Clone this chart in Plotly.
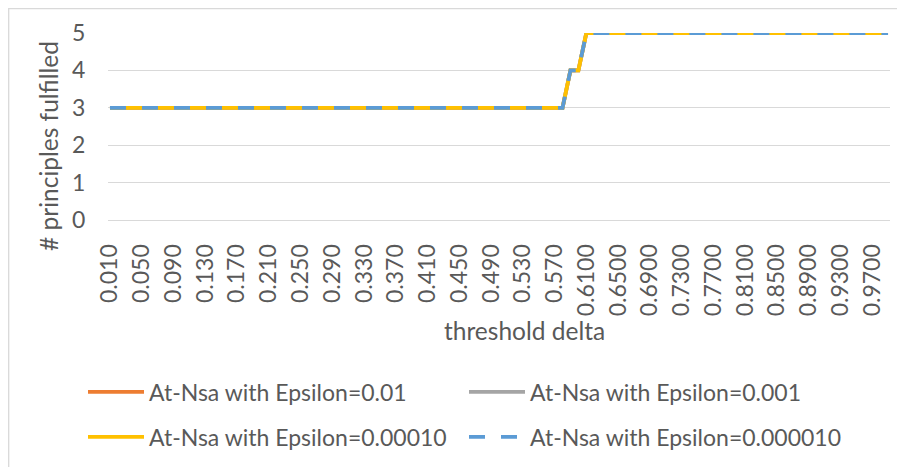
import plotly.graph_objects as go

categories = [
    "0.010", "0.020", "0.030", "0.040", "0.050", "0.060", "0.070", "0.080", "0.090", "0.100",
    "0.110", "0.120", "0.130", "0.140", "0.150", "0.160", "0.170", "0.180", "0.190", "0.200",
    "0.210", "0.220", "0.230", "0.240", "0.250", "0.260", "0.270", "0.280", "0.290", "0.300",
    "0.310", "0.320", "0.330", "0.340", "0.350", "0.360", "0.370", "0.380", "0.390", "0.400",
    "0.410", "0.420", "0.430", "0.440", "0.450", "0.460", "0.470", "0.480", "0.490", "0.500",
    "0.510", "0.520", "0.530", "0.540", "0.550", "0.560", "0.570", "0.580", "0.590", "0.600",
    "0.6100", "0.6200", "0.6300", "0.6400", "0.6500", "0.6600", "0.6700", "0.6800", "0.6900", "0.7000",
    "0.7100", "0.7200", "0.7300", "0.7400", "0.7500", "0.7600", "0.7700", "0.7800", "0.7900", "0.8000",
    "0.8100", "0.8200", "0.8300", "0.8400", "0.8500", "0.8600", "0.8700", "0.8800", "0.8900", "0.9000",
    "0.9100", "0.9200", "0.9300", "0.9400", "0.9500", "0.9600", "0.9700", "0.9800", "0.9900",
]

tick_labels = [
    "0.010", "0.050", "0.090", "0.130", "0.170", "0.210", "0.250", "0.290", "0.330", "0.370",
    "0.410", "0.450", "0.490", "0.530", "0.570", "0.6100", "0.6500", "0.6900", "0.7300", "0.7700",
    "0.8100", "0.8500", "0.8900", "0.9300", "0.9700",
]

eps_0_01 = [
    3, 3, 3, 3, 3, 3, 3, 3, 3, 3, 3, 3, 3, 3, 3, 3, 3, 3, 3, 3,
    3, 3, 3, 3, 3, 3, 3, 3, 3, 3, 3, 3, 3, 3, 3, 3, 3, 3, 3, 3,
    3, 3, 3, 3, 3, 3, 3, 3, 3, 3, 3, 3, 3, 3, 3, 3, 3, 3, 4, 4,
    5, 5, 5, 5, 5, 5, 5, 5, 5, 5, 5, 5, 5, 5, 5, 5, 5, 5, 5, 5,
    5, 5, 5, 5, 5, 5, 5, 5, 5, 5, 5, 5, 5, 5, 5, 5, 5, 5, 5,
]
eps_0_001 = [
    3, 3, 3, 3, 3, 3, 3, 3, 3, 3, 3, 3, 3, 3, 3, 3, 3, 3, 3, 3,
    3, 3, 3, 3, 3, 3, 3, 3, 3, 3, 3, 3, 3, 3, 3, 3, 3, 3, 3, 3,
    3, 3, 3, 3, 3, 3, 3, 3, 3, 3, 3, 3, 3, 3, 3, 3, 3, 3, 4, 4,
    5, 5, 5, 5, 5, 5, 5, 5, 5, 5, 5, 5, 5, 5, 5, 5, 5, 5, 5, 5,
    5, 5, 5, 5, 5, 5, 5, 5, 5, 5, 5, 5, 5, 5, 5, 5, 5, 5, 5,
]
eps_0_00010 = [
    3, 3, 3, 3, 3, 3, 3, 3, 3, 3, 3, 3, 3, 3, 3, 3, 3, 3, 3, 3,
    3, 3, 3, 3, 3, 3, 3, 3, 3, 3, 3, 3, 3, 3, 3, 3, 3, 3, 3, 3,
    3, 3, 3, 3, 3, 3, 3, 3, 3, 3, 3, 3, 3, 3, 3, 3, 3, 3, 4, 4,
    5, 5, 5, 5, 5, 5, 5, 5, 5, 5, 5, 5, 5, 5, 5, 5, 5, 5, 5, 5,
    5, 5, 5, 5, 5, 5, 5, 5, 5, 5, 5, 5, 5, 5, 5, 5, 5, 5, 5,
]
eps_0_000010 = [
    3, 3, 3, 3, 3, 3, 3, 3, 3, 3, 3, 3, 3, 3, 3, 3, 3, 3, 3, 3,
    3, 3, 3, 3, 3, 3, 3, 3, 3, 3, 3, 3, 3, 3, 3, 3, 3, 3, 3, 3,
    3, 3, 3, 3, 3, 3, 3, 3, 3, 3, 3, 3, 3, 3, 3, 3, 3, 3, 4, 4,
    5, 5, 5, 5, 5, 5, 5, 5, 5, 5, 5, 5, 5, 5, 5, 5, 5, 5, 5, 5,
    5, 5, 5, 5, 5, 5, 5, 5, 5, 5, 5, 5, 5, 5, 5, 5, 5, 5, 5,
]

series_names = [
    "At-Nsa with Epsilon=0.01",
    "At-Nsa with Epsilon=0.001",
    "At-Nsa with Epsilon=0.00010",
    "At-Nsa with Epsilon=0.000010",
]

FONT = "Lato, 'Open Sans', sans-serif"
TXT = "#595959"
OFF = 8  # page body margin
W, H = 905 - OFF, 467 - OFF
# plot area in page pixels: x 108..890, y 33..220
PL, PR, PT, PB = 108, 890, 33, 220
ML, MR, MT, MB = PL - OFF, 905 - PR, PT - OFF, 467 - PB
PW = PR - PL
PH = PB - PT


def px_x(p):
    return (p - PL) / PW


def px_y(p):
    return (PB - p) / PH


fig = go.Figure()
styles = [
    (eps_0_01, "#ED7D31", "solid", "legend"),
    (eps_0_001, "#A5A5A5", "solid", "legend2"),
    (eps_0_00010, "#FFC000", "solid", "legend3"),
    (eps_0_000010, "#5B9BD5", "16px,16px", "legend4"),
]
for (vals, color, dash, lg), name in zip(styles, series_names):
    fig.add_trace(go.Scatter(
        x=categories, y=vals, mode="lines", name=name,
        line=dict(color=color, width=3.8, dash=dash),
        legend=lg,
    ))

legend_common = dict(
    orientation="h", xanchor="left", yanchor="middle",
    font=dict(family=FONT, size=23, color=TXT),
    itemwidth=56, bgcolor="rgba(0,0,0,0)", tracegroupgap=0,
)

COL1, COL2 = 83, 464
ROW1, ROW2 = 392, 437

fig.update_layout(
    width=W, height=H,
    margin=dict(l=ML, r=MR, t=MT, b=MB, autoexpand=False),
    paper_bgcolor="white", plot_bgcolor="white",
    font=dict(family=FONT, color=TXT),
    showlegend=True,
    legend=dict(x=px_x(COL1), y=px_y(ROW1), **legend_common),
    legend2=dict(x=px_x(COL2), y=px_y(ROW1), **legend_common),
    legend3=dict(x=px_x(COL1), y=px_y(ROW2), **legend_common),
    legend4=dict(x=px_x(COL2), y=px_y(ROW2), **legend_common),
    xaxis=dict(
        type="category", range=[-0.25, 98.25],
        tickmode="array", tickvals=tick_labels, ticktext=tick_labels,
        tickangle=-90, tickfont=dict(family=FONT, size=23, color=TXT),
        ticks="outside", ticklen=14, tickcolor="rgba(0,0,0,0)",
        showgrid=False, showline=False, zeroline=False,
    ),
    yaxis=dict(
        range=[0, 5], dtick=1, tick0=0,
        tickfont=dict(family=FONT, size=23, color=TXT),
        ticks="outside", ticklen=17, tickcolor="rgba(0,0,0,0)",
        showgrid=True, gridcolor="#D9D9D9", gridwidth=1.3,
        zeroline=True, zerolinecolor="#D9D9D9", zerolinewidth=1.3,
        showline=False,
    ),
    annotations=[
        dict(text="# principles fulfilled", xref="paper", yref="paper",
             x=px_x(48), y=px_y(146), textangle=-90, showarrow=False,
             xanchor="center", yanchor="middle",
             font=dict(family=FONT, size=24.5, color=TXT)),
        dict(text="threshold delta", xref="paper", yref="paper",
             x=px_x(524), y=px_y(330), showarrow=False,
             xanchor="center", yanchor="middle",
             font=dict(family=FONT, size=24.5, color=TXT)),
    ],
    shapes=[
        dict(type="rect", xref="paper", yref="paper",
             x0=px_x(8.7), y0=px_y(475), x1=px_x(915), y1=px_y(8.7),
             line=dict(color="#D9D9D9", width=1.3), layer="below"),
    ],
)

fig.write_html("out.html")
